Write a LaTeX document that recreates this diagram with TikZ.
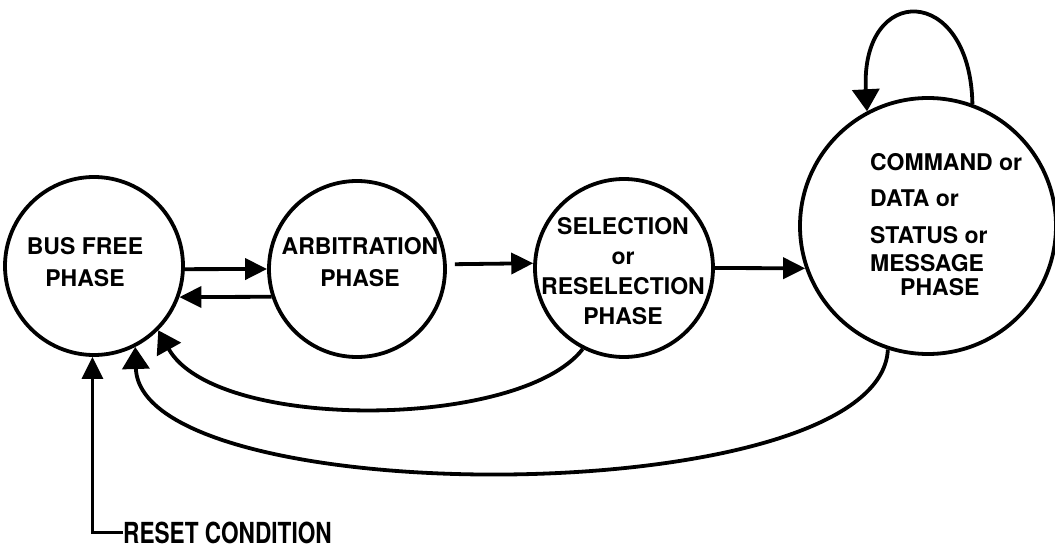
\documentclass[tikz,border=0pt]{standalone}
\usepackage{fontspec}
\setmainfont{TeX Gyre Heros}
\usetikzlibrary{arrows.meta}
\begin{document}
\begin{tikzpicture}[x=1pt,y=-1pt,
  state/.style={circle, draw, line width=3.8pt, inner sep=0pt},
  lbl/.style={inner sep=0pt},
  conn/.style={line width=3.8pt, -{Triangle[length=22pt,width=21pt]}},
  wide/.style={-{Triangle[length=22pt,width=27pt]}}
]
\useasboundingbox (0,0) rectangle (1055,548);
% states
\node[state, minimum size=178pt] (c1) at (94,266) {};
\node[state, minimum size=176pt] (c2) at (357,269) {};
\node[state, minimum size=178pt] (c3) at (624,268) {};
\node[state, minimum size=256pt] (c4) at (928,226) {};
% labels
\node[lbl, align=center, font=\bfseries\fontsize{23}{32}\selectfont] (t1) at (85,262.5) {BUS FREE\\PHASE};
\node[lbl, align=center, font=\bfseries\fontsize{23}{32}\selectfont] (t2) at (360,262) {ARBITRATION\\PHASE};
\node[lbl, align=center, font=\bfseries\fontsize{23}{30}\selectfont] (t3) at (623,271) {SELECTION\\or\\RESELECTION\\PHASE};
\node[lbl, align=left, anchor=west, font=\bfseries\fontsize{23}{28}\selectfont] (t4) at (870,225)
  {COMMAND or\\[8pt]DATA or\\[9pt]STATUS or\\MESSAGE\\[-4pt]\hspace*{30pt}PHASE};
\node[lbl, anchor=base west, font=\bfseries\fontsize{29}{30}\selectfont] (rst) at (123,543)
  {\scalebox{0.78}[1]{RESET CONDITION}};
% connectors
\draw[conn] (c1.-2) -- (c2.west);
\draw[conn] (c2.198) -- (c1.-20);
\draw[conn, shorten <=8pt] (c2.3) -- (c3.177);
\draw[conn] (c3.east) -- (c4.199);
\draw[conn, wide] (c4.70) .. controls (970,-17) and (860,-17) .. (c4.118.5);
\draw[conn, wide] (c3.243) .. controls (520,430) and (215,432) .. (c1.-45);
\draw[conn, wide] (c4.252.5) .. controls (880,513) and (140,513) .. (c1.-63);
\draw[conn, line width=3pt] (rst.west) -| (c1.-91.3);
\end{tikzpicture}
\end{document}
